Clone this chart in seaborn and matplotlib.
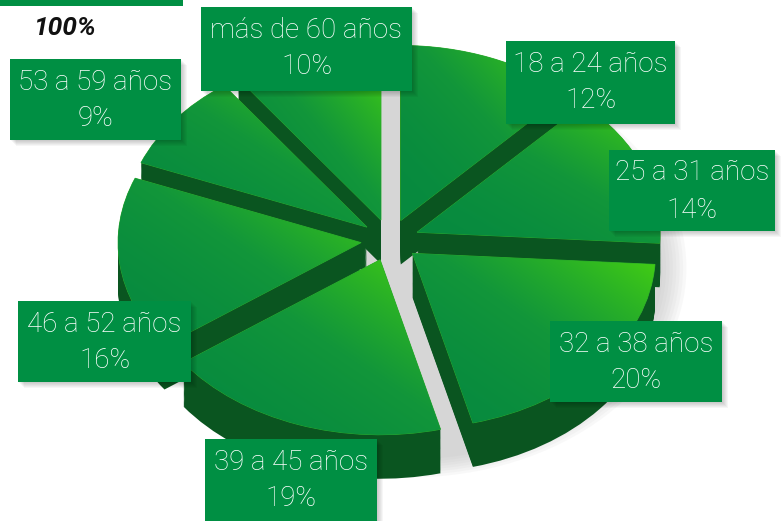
import numpy as np
import matplotlib
matplotlib.use("Agg")
import matplotlib.pyplot as plt
import matplotlib.patches as mpatches
from matplotlib.colors import LinearSegmentedColormap
import seaborn as sns

# data
groups = ["18 a 24 años", "25 a 31 años", "32 a 38 años", "39 a 45 años",
          "46 a 52 años", "53 a 59 años", "más de 60 años"]
shares = [12, 14, 20, 19, 16, 9, 10]
total_label = "100%"

# label boxes in pixel coords (left, top, right, bottom)
boxes = [(506, 41, 675, 124), (609, 150, 775, 231), (550, 321, 722, 402),
         (205, 439, 377, 521), (18, 301, 191, 382), (10, 59, 181, 140),
         (201, 7, 412, 91)]

W, H = 781, 521
BOX_GREEN = "#008f43"
SIDE_GREEN = "#0a5520"

sns.set_theme(style="white")
plt.rcParams["font.family"] = ["Roboto", "DejaVu Sans"]

fig = plt.figure(figsize=(W / 100, H / 100), dpi=100)
fig.patch.set_facecolor("white")

# pie axes: unit circle mapped to an ellipse
cx, cy, rx, ry = 390, 240, 243, 175
depth = 44 / ry
pax = fig.add_axes([0, 0, 1, 1])
pax.set_facecolor("none")
xlim = ((0 - cx) / rx, (W - cx) / rx)
ylim = ((cy - H) / ry, cy / ry)

explode = [0.12] * len(shares)

# soft grey shadow behind the pie
for i in range(8):
    s = 1.14 - i * 0.014
    pax.add_patch(mpatches.Ellipse((0.08, -0.16), 2 * s, 2 * s * 1.05,
                                   color="#b0b0b0", alpha=0.08, lw=0, zorder=0))

# extruded sides
for k in np.linspace(depth, 0.005, 40):
    pax.pie(shares, explode=explode, startangle=90, counterclock=False,
            center=(0, -k), radius=1, colors=[SIDE_GREEN] * len(shares),
            wedgeprops=dict(linewidth=0, zorder=1))

# top faces with a diagonal gradient
wedges, _ = pax.pie(shares, explode=explode, startangle=90, counterclock=False,
                    radius=1, colors=["#0a8c3e"] * len(shares),
                    wedgeprops=dict(linewidth=0.6, edgecolor="#2fae2a", zorder=2))
cmap = LinearSegmentedColormap.from_list("g", ["#078a3f", "#12963a", "#2bb325", "#45d012"])
gx, gy = np.meshgrid(np.linspace(0, 1, 120), np.linspace(0, 1, 120))
grad = ((gx + (1 - gy)) / 2) ** 1.8
for w in wedges:
    bb = w.get_path().get_extents(w.get_transform() - pax.transData)
    im = pax.imshow(grad, cmap=cmap, extent=[bb.x0, bb.x1, bb.y0, bb.y1],
                    origin="upper", aspect="auto", zorder=3, interpolation="bilinear")
    im.set_clip_path(w)

pax.set_xlim(*xlim)
pax.set_ylim(*ylim)
pax.axis("off")

# overlay axes in pixel coordinates for boxes and text
tax = fig.add_axes([0, 0, 1, 1])
tax.set_xlim(0, W)
tax.set_ylim(H, 0)
tax.axis("off")
tax.patch.set_alpha(0)

tax.add_patch(mpatches.Rectangle((0, 0), 183, 6, color=BOX_GREEN, lw=0))
tax.text(33, 28, total_label, fontsize=19, fontweight="bold", fontstyle="italic",
         color="#111111", va="center", ha="left")

for (l, t, r, b), g, s in zip(boxes, groups, shares):
    for i in range(6):
        off = 1 + i
        tax.add_patch(mpatches.Rectangle((l + off, t + off), r - l, b - t,
                                         color="black", alpha=0.035, lw=0))
    tax.add_patch(mpatches.Rectangle((l, t), r - l, b - t, color=BOX_GREEN, lw=0))
    xm = (l + r) / 2
    tax.text(xm, t + 23, g, fontsize=20, color="white", ha="center", va="center",
             fontweight="light")
    tax.text(xm, t + 60, f"{s}%", fontsize=20, color="white", ha="center", va="center",
             fontweight="light")

fig.savefig("out.png", dpi=100)
